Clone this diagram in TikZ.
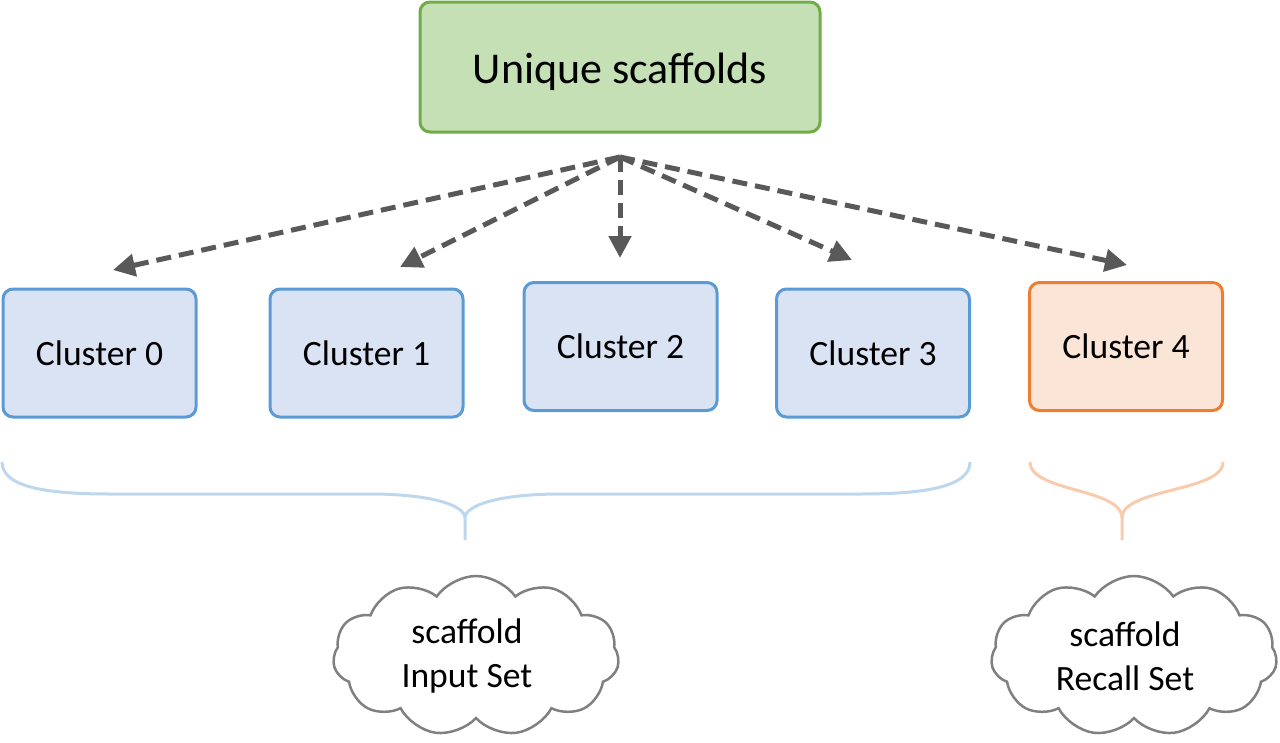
\documentclass[tikz,border=0pt]{standalone}
\usepackage{fontspec}
\setmainfont{Carlito}
\usetikzlibrary{shapes.symbols,arrows.meta}
\definecolor{gfill}{HTML}{C5E0B4}
\definecolor{gline}{HTML}{70AD47}
\definecolor{bfill}{HTML}{DAE3F3}
\definecolor{bline}{HTML}{5B9BD5}
\definecolor{ofill}{HTML}{FBE5D6}
\definecolor{oline}{HTML}{ED7D31}
\definecolor{arr}{HTML}{595959}
\definecolor{cloudline}{HTML}{808080}
\definecolor{bbrace}{HTML}{BDD7EE}
\definecolor{obrace}{HTML}{F8CBAD}
\begin{document}
\begin{tikzpicture}[x=1pt,y=-1pt,
  topbox/.style={draw=gline,fill=gfill,line width=3pt,rounded corners=10pt,minimum width=400pt,minimum height=130pt,inner sep=0pt,font=\fontsize{44}{50}\selectfont},
  clbox/.style={draw=bline,fill=bfill,line width=3pt,rounded corners=10pt,minimum width=193pt,minimum height=128pt,inner sep=0pt,font=\fontsize{35.6}{40}\selectfont},
  recbox/.style={clbox,draw=oline,fill=ofill},
  darr/.style={draw=arr,line width=5pt,dash pattern=on 15pt off 8pt,-{Triangle[length=22pt,width=22pt]}},
  bracestyle/.style={line width=3pt},
  cloudbox/.style={cloud,cloud puffs=11,cloud puff arc=110,aspect=1.75,draw=cloudline,line width=2.5pt,minimum width=286pt,minimum height=160pt,inner sep=0pt},
  cloudtext/.style={align=center,inner sep=0pt,font=\fontsize{35.6}{44}\selectfont}
]
\useasboundingbox (0,0) rectangle (1280,742);
\node[topbox] (top) at (620,67) {\raisebox{-16pt}[0pt][0pt]{Unique scaffolds}};
\node[clbox] (c0) at (99.5,353) {Cluster 0};
\node[clbox] (c1) at (366.5,353) {Cluster 1};
\node[clbox] (c2) at (620.5,346.5) {Cluster 2};
\node[clbox] (c3) at (873,353) {Cluster 3};
\node[recbox] (c4) at (1126,346.5) {Cluster 4};
\coordinate (src) at (620,157);
\coordinate (t0) at (113,270);
\coordinate (t1) at (400,267);
\coordinate (t2) at (620,258);
\coordinate (t3) at (852,260);
\coordinate (t4) at (1127,265);
\foreach \t in {t0,t1,t2,t3,t4} \draw[darr] (src) -- (\t);
% braces
\draw[bracestyle,draw=bbrace] (2,462) .. controls (2,488) and (50,494) .. (110,494) -- (370,494) .. controls (430,494) and (465,505) .. (465,518) -- (465,540);
\draw[bracestyle,draw=bbrace] (465,518) .. controls (465,505) and (500,494) .. (560,494) -- (860,494) .. controls (920,494) and (970,488) .. (970,462);
\draw[bracestyle,draw=obrace] (1030,462) .. controls (1030,492) and (1122,488) .. (1122,518) -- (1122,540);
\draw[bracestyle,draw=obrace] (1122,518) .. controls (1122,488) and (1223,492) .. (1223,462);
\node[cloudbox] (k1) at (476,656) {};
\node[cloudtext] (k1t) at (467,656) {scaffold\\Input Set};
\node[cloudbox] (k2) at (1134,656) {};
\node[cloudtext] (k2t) at (1125,656) {scaffold\\Recall Set};
\end{tikzpicture}
\end{document}
